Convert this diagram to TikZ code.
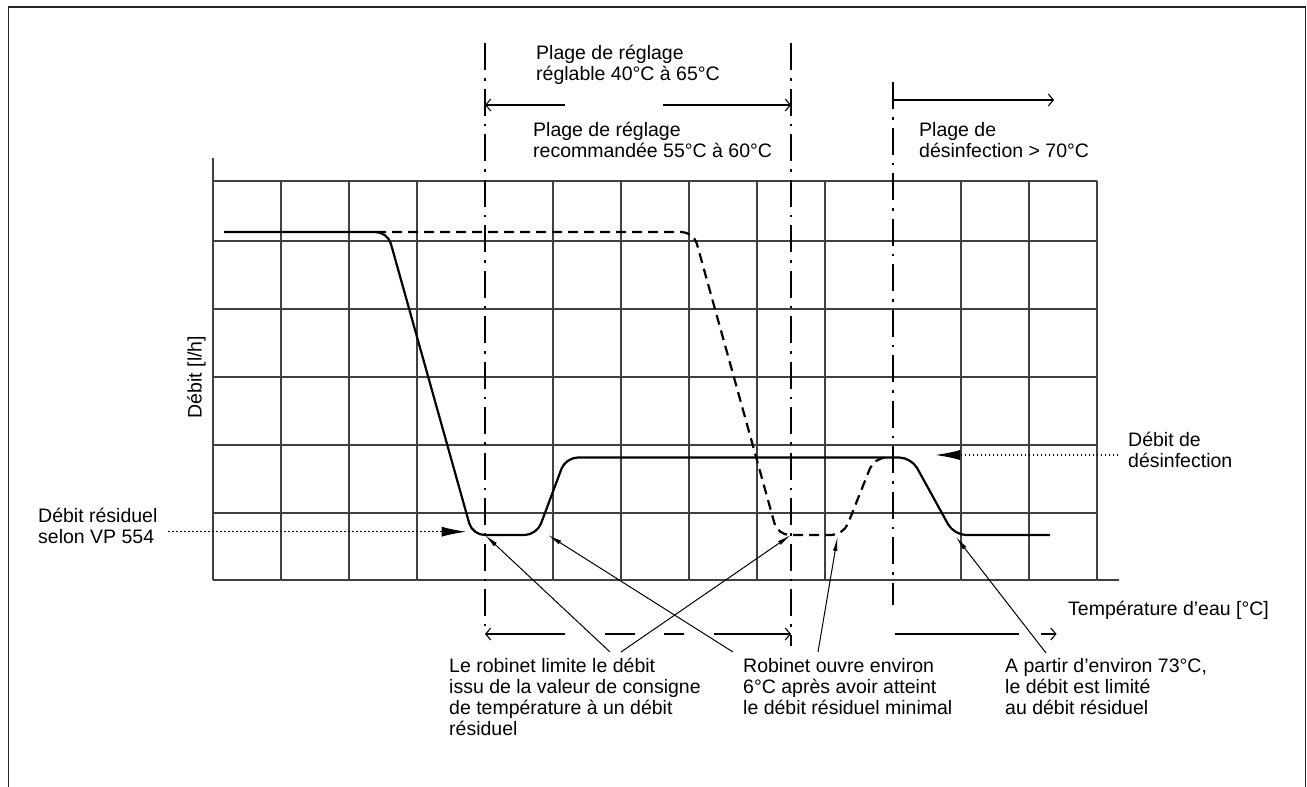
\documentclass[tikz,border=0pt]{standalone}
\usepackage{fontspec}
\setmainfont{Liberation Sans}
\usetikzlibrary{arrows.meta}
\begin{document}
\begin{tikzpicture}[x=1pt,y=-1pt,
  gridline/.style={draw=black!75, line width=1.4pt},
  curve/.style={line width=2.2pt, rounded corners=12pt, line join=round},
  dashcurve/.style={curve, dash pattern=on 10pt off 6pt},
  axisline/.style={line width=2pt, dash pattern=on 27pt off 8pt on 2.5pt off 8pt},
  rangearrow/.style={line width=1.1pt, -{Straight Barb[length=5pt,width=12pt]}},
  rangeline/.style={line width=1.1pt},
  callout/.style={line width=1pt, -{Latex[length=14pt,width=4.5pt]}},
  pointer/.style={line width=1.5pt, dash pattern=on 1.5pt off 2.5pt, -{Latex[length=25pt,width=10pt]}},
  lbl/.style={anchor=base west, inner sep=0pt, align=left, font=\fontsize{19.5}{21}\selectfont},
]
\useasboundingbox (0,0) rectangle (1307,787);
\fill[white] (0,0) rectangle (1307,787);

% frame
\draw[line width=1.6pt, black!85] (8.5,787) -- (8.5,7) -- (1305.5,7) -- (1305.5,787);

% grid
\foreach \y in {181,241,309,377,445,513} \draw[gridline] (213,\y) -- (1097,\y);
\draw[gridline] (213,580) -- (1119,580);
\draw[gridline] (213,158) -- (213,580);
\foreach \x in {281,349,417,553,621,689,757,825,961,1029,1097} \draw[gridline] (\x,181) -- (\x,580);

% dash-dot limits
\draw[axisline] (485,43) -- (485,626);
\draw[axisline] (791,43) -- (791,646);
\draw[axisline] (893,82) -- (893,605);

% curves
\draw[dashcurve] (376,232) -- (693.6,232) -- (777.7,535) -- (843.4,535) -- (874.3,457.5) -- (888,457.5);
\draw[curve] (224,232) -- (387.6,232) -- (472.5,535) -- (536.7,535) -- (565.7,457.5) -- (911.3,457.5) -- (954,535) -- (1050,535);

% labels (anchor = baseline of last line)
\node[lbl] (t1) at (536,80) {Plage de réglage\\réglable 40°C à 65°C};
\node[lbl] (t2) at (533,157) {Plage de réglage\\recommandée 55°C à 60°C};
\node[lbl] (t3) at (919,157) {Plage de\\désinfection > 70°C};
\node[lbl] (t4) at (38,543) {Débit résiduel\\selon VP 554};
\node[lbl] (t5) at (1128,467) {Débit de\\désinfection};
\node[lbl] (t6) at (1068,615) {Température d’eau [°C]};
\node[lbl, rotate=90] (t7) at (201.7,418.5) {Débit [l/h]};
\node[lbl] (t8) at (449,735) {Le robinet limite le débit\\issu de la valeur de consigne\\de température à un débit\\résiduel};
\node[lbl] (t9) at (743,714) {Robinet ouvre environ\\6°C après avoir atteint\\le débit résiduel minimal};
\node[lbl] (t10) at (1005,714) {A partir d’environ 73°C,\\le débit est limité\\au débit résiduel};

% range arrows (top)
\coordinate (r1a) at (565,105);
\coordinate (r1l) at (485,105);
\coordinate (r1b) at (662.7,105);
\coordinate (r1r) at (791,105);
\draw[rangearrow] (r1a) -- (r1l);
\draw[rangearrow] (r1b) -- (r1r);
\coordinate (r2a) at (893,100);
\coordinate (r2r) at (1054,100);
\draw[rangearrow] (r2a) -- (r2r);

% range arrows (bottom)
\coordinate (b1a) at (565.4,634);
\coordinate (b1l) at (485,634);
\coordinate (b2a) at (604.6,634);
\coordinate (b2b) at (634.6,634);
\coordinate (b3a) at (664.2,634);
\coordinate (b3b) at (684.2,634);
\coordinate (b4a) at (714.2,634);
\coordinate (b4r) at (791,634);
\draw[rangearrow] (b1a) -- (b1l);
\draw[rangeline] (b2a) -- (b2b);
\draw[rangeline] (b3a) -- (b3b);
\draw[rangearrow] (b4a) -- (b4r);
\coordinate (b5a) at (895,634);
\coordinate (b5b) at (1019,634);
\coordinate (b6a) at (1041,634);
\coordinate (b6r) at (1056.5,634);
\draw[rangeline] (b5a) -- (b5b);
\draw[rangearrow] (b6a) -- (b6r);

% callouts
\coordinate (c1s) at (610,652);  \coordinate (c1e) at (485,535);
\coordinate (c2s) at (621,652);  \coordinate (c2e) at (791,535);
\coordinate (c3s) at (733,652);  \coordinate (c3e) at (548,535);
\coordinate (c4s) at (818,652);  \coordinate (c4e) at (837.5,537);
\coordinate (c5s) at (1046,653); \coordinate (c5e) at (956,537);
\draw[callout] (c1s) -- (c1e);
\draw[callout] (c2s) -- (c2e);
\draw[callout] (c3s) -- (c3e);
\draw[callout] (c4s) -- (c4e);
\draw[callout] (c5s) -- (c5e);

% dotted pointers
\coordinate (p1s) at (168,531.7); \coordinate (p1e) at (466.7,531.7);
\coordinate (p2s) at (1118,455);  \coordinate (p2e) at (935,455);
\draw[pointer] (p1s) -- (p1e);
\draw[pointer] (p2s) -- (p2e);
\end{tikzpicture}
\end{document}
